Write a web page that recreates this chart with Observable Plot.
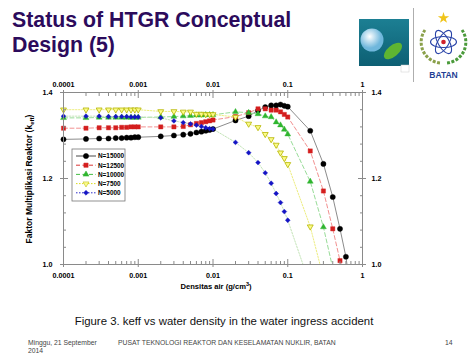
<!DOCTYPE html>
<html><head><meta charset="utf-8">
<script src="https://cdn.jsdelivr.net/npm/d3@7"></script>
<script src="https://cdn.jsdelivr.net/npm/@observablehq/plot@0.6"></script>
<style>
html,body{margin:0;padding:0;background:#fff;}
#page{position:relative;width:474px;height:355px;overflow:hidden;font-family:"Liberation Sans",Arial,sans-serif;}
#page svg{position:absolute;left:0;top:0;}
</style></head><body><div id="page"></div>
<script>
// ---- data ----
const density = [0.0001,0.0002,0.0003,0.0004,0.0005,0.0006,0.0007,0.0008,0.0009,0.001,
  0.002,0.003,0.004,0.005,0.006,0.007,0.008,0.009,0.01,
  0.02,0.03,0.04,0.05,0.06,0.07,0.08,0.09,0.1,
  0.2,0.3,0.4,0.5,0.6];
const keff15000 = [1.291,1.292,1.293,1.293,1.294,1.294,1.295,1.295,1.296,1.296,
  1.298,1.300,1.302,1.304,1.307,1.309,1.311,1.313,1.315,
  1.335,1.345,1.358,1.366,1.370,1.370,1.372,1.369,1.367,
  1.311,1.234,1.157,1.083,1.018];
const keff12500 = [1.317,1.317,1.318,1.318,1.318,1.319,1.319,1.320,1.320,1.320,
  1.320,1.320,1.321,1.325,1.328,1.330,1.332,1.334,1.336,
  1.344,1.353,1.362,1.362,1.359,1.359,1.355,1.349,1.343,
  1.264,1.171,1.083,1.009];
const keff10000 = [1.341,1.341,1.342,1.342,1.342,1.342,1.342,1.342,1.342,1.342,
  1.343,1.344,1.345,1.346,1.347,1.347,1.348,1.348,1.348,
  1.355,1.353,1.350,1.345,1.343,1.331,1.324,1.314,1.303,
  1.193,1.087];
const keff7500 = [1.360,1.360,1.360,1.360,1.360,1.360,1.360,1.360,1.360,1.360,
  1.356,1.356,1.355,1.355,1.350,1.350,1.349,1.349,1.349,
  1.343,1.327,1.319,1.303,1.291,1.278,1.260,1.247,1.233,
  1.088];
const keff5000 = [1.345,1.345,1.345,1.344,1.344,1.344,1.344,1.343,1.343,1.343,
  1.341,1.334,1.330,1.327,1.324,1.321,1.318,1.316,1.315,
  1.284,1.260,1.237,1.213,1.189,1.165,1.144,1.123,1.103];
// where each trend line leaves the frame at keff = 1.0
const lineEndDensity = [0.62, 0.52, 0.39, 0.27, 0.16];
const lineEndKeff = 1.0;
const seriesLabels = ["N=15000","N=12500","N=10000","N=7500","N=5000"];
const xTicks = [0.0001,0.001,0.01,0.1,1];
const xTickLabels = ["0.0001","0.001","0.01","0.1","1"];
const yTicks = [1.0,1.2,1.4];
const yTickLabels = ["1.0","1.2","1.4"];

// ---- styles ----
const styles = [
  {fill:"#000000", stroke:"#000000", line:"#8c8c8c", dash:null, symbol:"circle", rotate:0, r:2.6},
  {fill:"#d41e1e", stroke:"#d41e1e", line:"#f29090", dash:"4,2.5", symbol:"square", rotate:0, r:2.4},
  {fill:"#2fb52f", stroke:"#2fb52f", line:"#98dc98", dash:"4,2.5", symbol:"triangle", rotate:0, r:2.2},
  {fill:"#fbfb8a", stroke:"#b5b500", line:"#eded80", dash:"1.5,1.5", symbol:"triangle", rotate:180, r:2.2},
  {fill:"#1414c4", stroke:"#1414c4", line:"#c4e4b8", dash:"1.5,1.5", symbol:"diamond2", rotate:0, r:2.2}
];
const allKeff = [keff15000, keff12500, keff10000, keff7500, keff5000];
const series = allKeff.map((k, s) => ({
  label: seriesLabels[s],
  points: k.map((v, i) => ({density: density[i], keff: v, series: seriesLabels[s]})),
  end: {density: lineEndDensity[s], keff: lineEndKeff},
  ...styles[s]
}));

const xMinor = [];
for (let e = -4; e < 0; e++) for (let m = 2; m <= 9; m++) xMinor.push(+(m * Math.pow(10, e)).toPrecision(3));
const yMinor = d3.range(1.04, 1.4, 0.04).map(v => +v.toFixed(2)).filter(v => Math.abs(v - 1.2) > 1e-6);

const axisStroke = "#8a8a8a";
const noText = () => "";
const tfX = d => xTickLabels[xTicks.indexOf(d)];
const tfY = d => yTickLabels[yTicks.findIndex(t => Math.abs(t - d) < 1e-9)];
const textOpts = {fontWeight: "bold", fontSize: 7.2, fill: "#000", label: null, tickSize: 0};

const marks = [];
series.forEach(s => marks.push(Plot.line([...s.points, s.end], {
  x: "density", y: "keff", stroke: s.line, strokeWidth: 1, strokeDasharray: s.dash
})));
series.forEach(s => marks.push(Plot.dot(s.points, {
  x: "density", y: "keff", symbol: s.symbol, r: s.r, fill: s.fill, stroke: s.stroke,
  strokeWidth: s.rotate ? 0.8 : 0.4, rotate: s.rotate
})));
marks.push(Plot.frame({stroke: axisStroke}));
for (const anchor of ["top", "bottom"]) {
  marks.push(Plot.axisX({anchor, ticks: xTicks, tickFormat: noText, tickSize: -5, stroke: axisStroke, label: null}));
  marks.push(Plot.axisX({anchor, ticks: xTicks, tickFormat: noText, tickSize: 3, stroke: axisStroke, label: null}));
  marks.push(Plot.axisX({anchor, ticks: xMinor, tickFormat: noText, tickSize: -3, stroke: axisStroke, label: null}));
  marks.push(Plot.axisX({anchor, ticks: xTicks, tickFormat: tfX, tickPadding: anchor === "top" ? 6 : 8, ...textOpts}));
}
for (const anchor of ["left", "right"]) {
  marks.push(Plot.axisY({anchor, ticks: yTicks, tickFormat: noText, tickSize: -5, stroke: axisStroke, label: null}));
  marks.push(Plot.axisY({anchor, ticks: yTicks, tickFormat: noText, tickSize: 3, stroke: axisStroke, label: null}));
  marks.push(Plot.axisY({anchor, ticks: yMinor, tickFormat: noText, tickSize: -3, stroke: axisStroke, label: null}));
  marks.push(Plot.axisY({anchor, ticks: yTicks, tickFormat: tfY, tickPadding: anchor === "left" ? 11 : 9, ...textOpts}));
}

const chart = Plot.plot({
  width: 474, height: 355,
  marginLeft: 63, marginRight: 112, marginTop: 92, marginBottom: 91,
  style: {fontFamily: "'Liberation Sans', Arial, sans-serif", background: "transparent", overflow: "visible"},
  x: {type: "log", domain: [0.0001, 1], label: null},
  y: {domain: [1.0, 1.4], label: null},
  marks
});
const page = document.getElementById("page");
page.appendChild(chart);

// ---- overlay: texts, legend, logos ----
const svg = d3.select(page).append("svg").attr("width", 474).attr("height", 355)
  .style("font-family", "'Liberation Sans', Arial, sans-serif");

// title
const title = svg.append("text").attr("x", 12).attr("font-size", 21.3).attr("font-weight", "bold").attr("fill", "#2c0b5c");
title.append("tspan").attr("x", 12).attr("y", 26.5).text("Status of HTGR Conceptual");
title.append("tspan").attr("x", 12).attr("y", 51.5).text("Design (5)");

// axis titles
const xl = svg.append("text").attr("x", 216).attr("y", 289).attr("text-anchor", "middle")
  .attr("font-size", 7.6).attr("font-weight", "bold");
xl.append("tspan").text("Densitas air (g/cm");
xl.append("tspan").attr("dy", -3).attr("font-size", 5.5).text("3");
xl.append("tspan").attr("dy", 3).text(")");
const yl = svg.append("text").attr("transform", "translate(32,179) rotate(-90)").attr("text-anchor", "middle")
  .attr("font-size", 8.5).attr("font-weight", "bold");
yl.append("tspan").text("Faktor Multiplikasi Reaktor (k");
yl.append("tspan").attr("dy", 2).attr("font-size", 6).text("eff");
yl.append("tspan").attr("dy", -2).text(")");

// legend
const lg = svg.append("g");
lg.append("rect").attr("x", 72).attr("y", 149).attr("width", 53).attr("height", 52)
  .attr("fill", "#fff").attr("stroke", "#777").attr("stroke-width", 0.8);
const symMap = {circle: d3.symbolCircle, square: d3.symbolSquare, triangle: d3.symbolTriangle, diamond2: d3.symbolDiamond2};
series.forEach((s, i) => {
  const y = 156 + i * 9.2;
  lg.append("line").attr("x1", 76).attr("x2", 96).attr("y1", y).attr("y2", y)
    .attr("stroke", i === 0 ? "#333" : s.fill === "#fbfb8a" ? "#d6d600" : s.fill)
    .attr("stroke-width", 0.9).attr("stroke-dasharray", s.dash);
  lg.append("path").attr("d", d3.symbol(symMap[s.symbol], Math.PI * s.r * s.r)())
    .attr("transform", `translate(86,${y}) rotate(${s.rotate})`)
    .attr("fill", s.fill).attr("stroke", s.stroke).attr("stroke-width", 0.5);
  lg.append("text").attr("x", 98).attr("y", y + 2.3).attr("font-size", 6.4).attr("font-weight", "bold").text(s.label);
});

// caption and footer
svg.append("text").attr("x", 224).attr("y", 324.5).attr("text-anchor", "middle").attr("font-size", 11.4)
  .attr("fill", "#111").text("Figure 3. keff vs water density in the water ingress accident");
const ft = svg.append("g").attr("font-size", 6.8).attr("fill", "#444");
ft.append("text").attr("x", 28).attr("y", 345).text("Minggu, 21 September");
ft.append("text").attr("x", 28).attr("y", 352.5).text("2014");
ft.append("text").attr("x", 118).attr("y", 345).text("PUSAT TEKNOLOGI REAKTOR DAN KESELAMATAN NUKLIR, BATAN");
ft.append("text").attr("x", 445).attr("y", 345).text("14");

// logos (decorative)
const defs = svg.append("defs");
const g1 = defs.append("linearGradient").attr("id", "teal").attr("x1", 0).attr("y1", 0).attr("x2", 0).attr("y2", 1);
g1.append("stop").attr("offset", 0).attr("stop-color", "#1c7f93");
g1.append("stop").attr("offset", 1).attr("stop-color", "#0d5f73");
const g2 = defs.append("radialGradient").attr("id", "globe").attr("cx", 0.4).attr("cy", 0.35);
g2.append("stop").attr("offset", 0).attr("stop-color", "#ffffff");
g2.append("stop").attr("offset", 1).attr("stop-color", "#6fb7dc");
svg.append("rect").attr("x", 359).attr("y", 19).attr("width", 50).attr("height", 47).attr("fill", "url(#teal)");
svg.append("circle").attr("cx", 372).attr("cy", 40).attr("r", 11.5).attr("fill", "url(#globe)");
svg.append("ellipse").attr("cx", 393).attr("cy", 51).attr("rx", 11).attr("ry", 5.5)
  .attr("transform", "rotate(-40,393,51)").attr("fill", "#5fb531");
svg.append("rect").attr("x", 401).attr("y", 65).attr("width", 8).attr("height", 7).attr("fill", "#fff").attr("stroke", "#ccc").attr("stroke-width", 0.5);
svg.append("line").attr("x1", 413.5).attr("x2", 413.5).attr("y1", 8).attr("y2", 82).attr("stroke", "#999").attr("stroke-width", 0.8);
const b = svg.append("g");
b.append("path").attr("d", "M425,30 A21,21 0 0,0 440,63").attr("fill", "none").attr("stroke", "#8aa04a").attr("stroke-width", 3).attr("stroke-dasharray", "3,1.5");
b.append("path").attr("d", "M462,30 A21,21 0 0,1 447,63").attr("fill", "none").attr("stroke", "#4a9a3a").attr("stroke-width", 3).attr("stroke-dasharray", "3,1.5");
[0, 60, 120].forEach(a => b.append("ellipse").attr("cx", 443.5).attr("cy", 42).attr("rx", 13).attr("ry", 5.5)
  .attr("transform", `rotate(${a},443.5,42)`).attr("fill", "none").attr("stroke", "#2a44a8").attr("stroke-width", 1.1));
b.append("circle").attr("cx", 443.5).attr("cy", 42).attr("r", 2.3).attr("fill", "#d0202a");
b.append("path").attr("d", d3.symbol(d3.symbolStar, 40)()).attr("transform", "translate(443.5,18)").attr("fill", "#f0c419");
b.append("text").attr("x", 443.5).attr("y", 78).attr("text-anchor", "middle").attr("font-size", 8.5)
  .attr("font-weight", "bold").attr("fill", "#1f3f95").text("BATAN");
</script></body></html>
